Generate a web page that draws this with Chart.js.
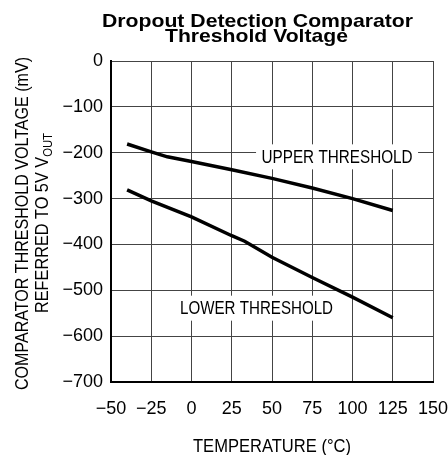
<!DOCTYPE html>
<html>
<head>
<meta charset="utf-8">
<script src="https://cdn.jsdelivr.net/npm/chart.js@4/dist/chart.umd.min.js"></script>
<style>
  html, body { margin: 0; padding: 0; background: #fff; }
  #wrap { width: 448px; height: 455px; }
</style>
</head>
<body>
<div id="wrap"><canvas id="c" width="448" height="455"></canvas></div>
<script>
// Temperature (°C) sample points
const upperTemps = [-40, -25, -15, 0, 25, 50, 75, 100, 125];
const upperMv    = [-181, -198, -209, -219, -237, -256, -277, -300, -326];
const lowerTemps = [-40, -25, 0, 25, 33, 50, 75, 100, 125];
const lowerMv    = [-281, -305, -340, -381, -393, -428, -472, -515, -560];

const xTicks = [-50, -25, 0, 25, 50, 75, 100, 125, 150];
const yTicks = [0, -100, -200, -300, -400, -500, -600, -700];

const titleLines = ['Dropout Detection Comparator', 'Threshold Voltage'];
const xTitle = 'TEMPERATURE (\u00B0C)';
const yTitle1 = 'COMPARATOR THRESHOLD VOLTAGE (mV)';
const yTitle2Main = 'REFERRED TO 5V V';
const yTitle2Sub = 'OUT';
const seriesLabels = ['UPPER THRESHOLD', 'LOWER THRESHOLD'];
// label anchor positions in data units (temperature, mV)
const labelAnchors = [[90.4, -209], [40.4, -539]];

const FONT = "'Liberation Sans', Arial, sans-serif";

function toPts(xs, ys) { return xs.map((x, i) => ({x: x, y: ys[i]})); }

function fitText(ctx, text, cx, baseY, targetW, font) {
  ctx.save();
  ctx.font = font;
  const w = ctx.measureText(text).width;
  ctx.translate(cx, baseY);
  ctx.scale(targetW / w, 1);
  ctx.textAlign = 'center';
  ctx.textBaseline = 'alphabetic';
  ctx.fillText(text, 0, 0);
  ctx.restore();
}

const textPlugin = {
  id: 'texts',
  beforeDatasetsDraw(chart) {
    const ctx = chart.ctx;
    const xs = chart.scales.x, ys = chart.scales.y;
    const sizes = [[162, 25], [160, 25]];
    const widths = [151, 153];
    labelAnchors.forEach((a, i) => {
      const px = xs.getPixelForValue(a[0]);
      const py = ys.getPixelForValue(a[1]);
      ctx.save();
      ctx.fillStyle = '#fff';
      ctx.fillRect(px - sizes[i][0] / 2, py - sizes[i][1] / 2, sizes[i][0], sizes[i][1]);
      ctx.fillStyle = '#000';
      fitText(ctx, seriesLabels[i], px, py + 6.3, widths[i], '17.5px ' + FONT);
      ctx.restore();
    });
  },
  afterDraw(chart) {
    const ctx = chart.ctx;
    const area = chart.chartArea;
    ctx.save();
    ctx.fillStyle = '#000';
    // title
    fitText(ctx, titleLines[0], 257.5, 27, 311, 'bold 18.5px ' + FONT);
    fitText(ctx, titleLines[1], 256.5, 42, 183, 'bold 18.5px ' + FONT);
    // x title
    const cxa = (area.left + area.right) / 2;
    fitText(ctx, xTitle, cxa, 452, 158, '18px ' + FONT);
    // y title line 1
    ctx.save();
    ctx.translate(28, 223.5);
    ctx.rotate(-Math.PI / 2);
    fitText(ctx, yTitle1, 0, 0, 333, '18px ' + FONT);
    ctx.restore();
    // y title line 2 with subscript
    ctx.save();
    ctx.translate(50, 223);
    ctx.rotate(-Math.PI / 2);
    const mainFont = '18px ' + FONT, subFont = '12.5px ' + FONT;
    ctx.font = mainFont;
    const wm = ctx.measureText(yTitle2Main).width;
    ctx.font = subFont;
    const wsub = ctx.measureText(yTitle2Sub).width;
    const total = wm + wsub;
    const k = 180 / total;
    ctx.scale(k, 1);
    ctx.textAlign = 'left';
    ctx.textBaseline = 'alphabetic';
    ctx.font = mainFont;
    ctx.fillText(yTitle2Main, -total / 2, -2);
    ctx.font = subFont;
    ctx.fillText(yTitle2Sub, -total / 2 + wm, 2);
    ctx.restore();
    ctx.restore();
  }
};

new Chart(document.getElementById('c'), {
  type: 'line',
  data: {
    datasets: [
      { label: seriesLabels[0], data: toPts(upperTemps, upperMv), borderColor: '#000', borderWidth: 3.5, pointRadius: 0, tension: 0, fill: false },
      { label: seriesLabels[1], data: toPts(lowerTemps, lowerMv), borderColor: '#000', borderWidth: 3.5, pointRadius: 0, tension: 0, fill: false }
    ]
  },
  options: {
    responsive: false,
    animation: false,
    devicePixelRatio: 1,
    layout: { padding: { top: 61, right: 15, left: 0, bottom: 0 } },
    plugins: { legend: { display: false }, title: { display: false }, tooltip: { enabled: false } },
    scales: {
      x: {
        type: 'linear', min: -50, max: 150,
        afterBuildTicks: s => { s.ticks = xTicks.map(v => ({value: v})); },
        afterFit: s => { s.height = 73; s.paddingLeft = 0; s.paddingRight = 0; },
        ticks: {
          autoSkip: false, maxRotation: 0, padding: 16, color: '#000',
          font: { family: FONT, size: 18 },
          callback: v => String(v).replace('-', '\u2212')
        },
        grid: { color: '#444', lineWidth: 1, drawTicks: false },
        border: { color: '#000', width: 2 }
      },
      y: {
        type: 'linear', min: -700, max: 0,
        afterBuildTicks: s => { s.ticks = yTicks.map(v => ({value: v})); },
        afterFit: s => { s.width = 111; s.paddingTop = 0; s.paddingBottom = 0; },
        ticks: {
          padding: 8, color: '#000',
          font: { family: FONT, size: 18 },
          callback: v => String(v).replace('-', '\u2212')
        },
        grid: { color: '#444', lineWidth: 1, drawTicks: false },
        border: { color: '#000', width: 2 }
      }
    }
  },
  plugins: [textPlugin]
});
</script>
</body>
</html>
